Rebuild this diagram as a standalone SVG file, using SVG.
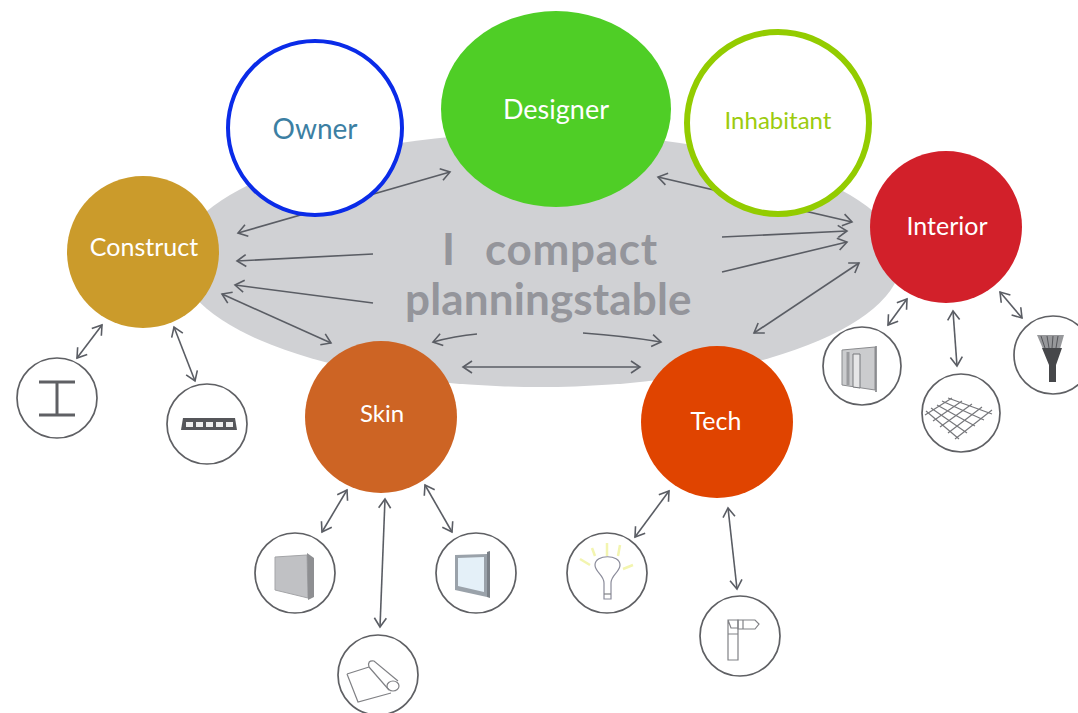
<svg xmlns="http://www.w3.org/2000/svg" width="1078" height="713" viewBox="0 0 1078 713">
<style>
.lbl{font-family:Lato,"Noto Sans",sans-serif;text-anchor:middle;fill:#fff;font-size:25px}
.ttl{font-family:Lato,"Noto Sans",sans-serif;font-weight:700;fill:#94959b;font-size:44px}
.cn{fill:none;stroke:#5a5d64;stroke-width:1.6;marker-start:url(#a);marker-end:url(#a)}
.cs{fill:none;stroke:#5a5d64;stroke-width:1.6;marker-end:url(#a)}
.ic{fill:#fff;stroke:#5f6064;stroke-width:1.7}
.d{fill:none;stroke:#808185;stroke-width:1.2}
</style>
<defs>
<marker id="a" viewBox="-10 -7 12 14" markerWidth="12" markerHeight="14" refX="0" refY="0" orient="auto-start-reverse" markerUnits="userSpaceOnUse">
<path d="M-9 -6L0 0L-9 6" fill="none" stroke="#5a5d64" stroke-width="1.6"/>
</marker>
</defs>
<rect width="1078" height="713" fill="#fff"/>
<g id="table">
<ellipse cx="540" cy="260" rx="361" ry="127" fill="#d0d1d4"/>
<text class="ttl" x="442" y="265">I</text>
<text class="ttl" x="485" y="265" style="letter-spacing:.7px">compact</text>
<text class="ttl" x="405" y="315" style="letter-spacing:.15px">planningstable</text>
</g>
<g id="connectors">
<path class="cn" d="M238 233L450 172"/>
<path class="cs" d="M373 254L237 261"/>
<path class="cs" d="M373 303L235 285"/>
<path class="cn" d="M222 294L331 343"/>
<path class="cs" d="M477 334Q455 336 433 342"/>
<path class="cs" d="M583 333Q625 336 661 342"/>
<path class="cn" d="M463 367H640"/>
<path class="cn" d="M658 177L852 222"/>
<path class="cs" d="M722 237L847 231"/>
<path class="cs" d="M722 272L847 242"/>
<path class="cn" d="M859 263L754 333"/>
<path class="cn" d="M102 325L77 358"/>
<path class="cn" d="M174 327L195 381"/>
<path class="cn" d="M347 490L322 532"/>
<path class="cn" d="M385 499L380 627"/>
<path class="cn" d="M425 485L452 532"/>
<path class="cn" d="M669 491L635 537"/>
<path class="cn" d="M728 508L737 589"/>
<path class="cn" d="M907 299L888 325"/>
<path class="cn" d="M953 311L957 366"/>
<path class="cn" d="M1000 292L1022 318"/>
</g>
<g id="designer"><ellipse cx="556" cy="109" rx="115" ry="98" fill="#4fce26"/><text class="lbl" x="556" y="119" style="font-size:27px">Designer</text></g>
<g id="owner"><circle cx="315" cy="128" r="87" fill="#fff" stroke="#0a2be8" stroke-width="4"/><text class="lbl" x="315" y="139" style="fill:#3c7fa3;font-size:28px">Owner</text></g>
<g id="inhabitant"><circle cx="778" cy="123" r="91" fill="#fff" stroke="#93cc00" stroke-width="6"/><text class="lbl" x="778" y="129" style="fill:#9ccb0e;font-size:24px">Inhabitant</text></g>
<g id="construct"><circle cx="143" cy="252" r="76" fill="#cb9b2b"/><text class="lbl" x="144" y="256">Construct</text></g>
<g id="interior"><circle cx="946" cy="227" r="76" fill="#d2202a"/><text class="lbl" x="947" y="235">Interior</text></g>
<g id="skin"><circle cx="381" cy="417" r="76" fill="#cd6424"/><text class="lbl" x="382" y="422" style="font-size:24px">Skin</text></g>
<g id="tech"><circle cx="717" cy="422" r="76" fill="#e04400"/><text class="lbl" x="716" y="430">Tech</text></g>
<g id="i-beam"><circle class="ic" cx="57" cy="398" r="40"/><path d="M39 382H75M39 415H75M57 382V415" fill="none" stroke="#5f6064" stroke-width="3"/></g>
<g id="i-slab"><circle class="ic" cx="207" cy="424" r="40"/><path d="M183 418H235L237 430H181Z" fill="#55565a"/><path d="M186 422h7v5h-7zM196 422h7v5h-7zM206 422h7v5h-7zM216 422h7v5h-7zM226 422h7v5h-7z" fill="#eee"/></g>
<g id="i-wall"><circle class="ic" cx="295" cy="573" r="40"/><path d="M275 557L307 555L308 598L275 590Z" fill="#c0c1c4" stroke="#a4a5a8"/><path d="M307 553L314 558V597L308 600Z" fill="#8e8f92"/></g>
<g id="i-window"><circle class="ic" cx="476" cy="573" r="40"/><path d="M455 555L487 554V597L455 590Z" fill="#9aa2aa"/><path d="M458 558L484 557V592L458 586Z" fill="#e4f0f8"/><path d="M487 552L490 551V598L487 597Z" fill="#7a8087"/></g>
<g id="i-roll"><circle class="ic" cx="378" cy="675" r="40"/><path d="M347 674L369 667M347 674L358 702L391 693M369 667Q367 660 374 661L398 681M369 667L389 690" class="d"/><ellipse cx="393" cy="686" rx="6" ry="5" class="d"/></g>
<g id="i-bulb"><circle class="ic" cx="607" cy="573" r="40"/><path d="M604 583C604 575 595 572 595 565C595 554 620 554 620 565C620 572 611 575 611 583V599H604Z" class="d" style="stroke:#8a8b9a"/><path d="M604 594H611" class="d"/><path d="M607 543V556M592 548L595 556M620 545L618 556M580 559L590 565M633 565L623 569" fill="none" stroke="#f3f5b0" stroke-width="2.5"/></g>
<g id="i-pipe"><circle class="ic" cx="740" cy="636" r="40"/><path d="M728 620H738V660H728ZM728 634H738M728 620L731 628H738" class="d"/><path d="M738 620H755L759 624L755 629H738Z" class="d"/><path d="M743 620V629" class="d"/></g>
<g id="i-door"><circle class="ic" cx="862" cy="366" r="39"/><path d="M842 350L875 347V390L842 385Z" fill="#cbccce" stroke="#8a8b8e"/><path d="M853 354H860V388L853 387Z" fill="#e6e6e7" stroke="#77787c"/><path d="M848 352V385" stroke="#9a9b9e" stroke-width="3" fill="none"/><path d="M876 346V392" stroke="#77787c" stroke-width="1.5" fill="none"/></g>
<g id="i-net"><circle class="ic" cx="961" cy="413" r="39"/><path d="M926 411L959 439M931 408L967 433M937 405L975 426M942 401L984 420M948 398L992 414M925 415L952 398M933 421L962 401M940 427L972 404M948 433L982 407M955 439L992 410" fill="none" stroke="#77787c" stroke-width="1.2"/></g>
<g id="i-brush"><circle class="ic" cx="1053" cy="355" r="39"/><path d="M1037 335H1064L1060 349H1043Z" fill="#97989b"/><path d="M1041 336L1045 348M1047 336L1049 348M1053 336L1052 348M1058 336L1056 348" stroke="#55565a" fill="none"/><path d="M1042 348H1062L1056 365V382H1049V365Z" fill="#46474a"/></g>
</svg>
